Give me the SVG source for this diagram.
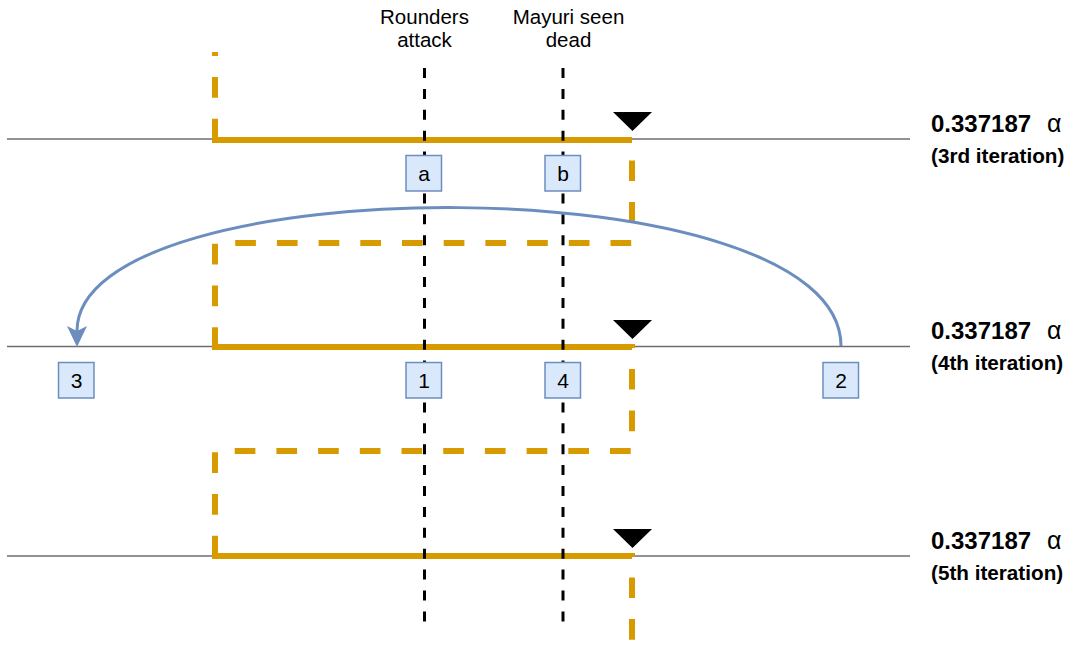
<svg xmlns="http://www.w3.org/2000/svg" width="1078" height="645" viewBox="0 0 1078 645">
<style>
.tl{stroke:#6e6e6e;stroke-width:1.5;fill:none}
.orD{stroke:#d79b00;stroke-width:6;fill:none;stroke-dasharray:20.7 21;stroke-dashoffset:16.7;stroke-linejoin:miter}
.orS{stroke:#d79b00;stroke-width:6;fill:none}
.bk{stroke:#000;stroke-width:3;fill:none;stroke-dasharray:10 10.9}
.tri{fill:#000}
.box{fill:#dae8fc;stroke:#6c8ebf;stroke-width:1.5}
.bt{font-family:"Liberation Sans",Arial,sans-serif;font-size:21px;fill:#000;text-anchor:middle}
.lb{font-family:"Liberation Sans",Arial,sans-serif;font-size:20.5px;fill:#000;text-anchor:middle}
.v1{font-family:"Liberation Sans",Arial,sans-serif;font-size:24px;font-weight:bold;fill:#000}
.v1 .al{font-weight:normal;font-size:25px}
.v2{font-family:"Liberation Sans",Arial,sans-serif;font-size:20.7px;font-weight:bold;fill:#000}
.cv{stroke:#6c8ebf;stroke-width:3;fill:none}
</style>
<defs>
<marker id="arr" markerUnits="userSpaceOnUse" markerWidth="22" markerHeight="22" viewBox="0 0 22 22" refX="5" refY="11" orient="auto">
<path d="M0 1 L21 11 L0 21 L5 11 Z" fill="#6c8ebf"/>
</marker>
</defs>
<g id="timelines">
<line class="tl" x1="7" y1="139" x2="910" y2="139"/>
<line class="tl" x1="7" y1="346.5" x2="910" y2="346.5"/>
<line class="tl" x1="7" y1="556" x2="910" y2="556"/>
</g>
<g id="iteration-path">
<polyline class="orD" points="215,52 215,140 632,140 632,243 215,243 215,347 632,347 632,451 215,451 215,556 632,556 632,650"/>
<line class="orS" x1="212" y1="140" x2="632" y2="140"/>
<line class="orS" x1="212" y1="347" x2="632" y2="347"/>
<line class="orS" x1="212" y1="556" x2="632" y2="556"/>
</g>
<g id="event-lines">
<line class="bk" x1="424.5" y1="68" x2="424.5" y2="622"/>
<line class="bk" x1="563" y1="68" x2="563" y2="622"/>
</g>
<g id="markers">
<polygon class="tri" points="613,112 652,112 632.5,131"/>
<polygon class="tri" points="613,320 652,320 632.5,339"/>
<polygon class="tri" points="613,529 652,529 632.5,548"/>
</g>
<g id="connectors">
<path class="cv" d="M841 346 C 841 163, 77 165, 77 331" marker-end="url(#arr)"/>
</g>
<g id="box-a"><rect class="box" x="406" y="155.5" width="35.5" height="35.5"/><text class="bt" x="424" y="181">a</text></g>
<g id="box-b"><rect class="box" x="545" y="155.5" width="35.5" height="35.5"/><text class="bt" x="563" y="181">b</text></g>
<g id="box-1"><rect class="box" x="406" y="362.5" width="35.5" height="35.5"/><text class="bt" x="424" y="388">1</text></g>
<g id="box-4"><rect class="box" x="545" y="362.5" width="35.5" height="35.5"/><text class="bt" x="563" y="388">4</text></g>
<g id="box-3"><rect class="box" x="58.5" y="362.5" width="35.5" height="35.5"/><text class="bt" x="76.5" y="388">3</text></g>
<g id="box-2"><rect class="box" x="823" y="362.5" width="35.5" height="35.5"/><text class="bt" x="841" y="388">2</text></g>
<g id="label-rounders"><text class="lb" x="424.5" y="24"><tspan x="424.5">Rounders</tspan><tspan x="424.5" dy="23">attack</tspan></text></g>
<g id="label-mayuri"><text class="lb" x="568.5" y="24"><tspan x="568.5">Mayuri seen</tspan><tspan x="568.5" dy="23">dead</tspan></text></g>
<g id="label-3rd"><text class="v1" x="931" y="132">0.337187 <tspan class="al" x="1047">α</tspan></text><text class="v2" x="931" y="163">(3rd iteration)</text></g>
<g id="label-4th"><text class="v1" x="931" y="339">0.337187 <tspan class="al" x="1047">α</tspan></text><text class="v2" x="931" y="370">(4th iteration)</text></g>
<g id="label-5th"><text class="v1" x="931" y="549">0.337187 <tspan class="al" x="1047">α</tspan></text><text class="v2" x="931" y="580">(5th iteration)</text></g>
</svg>
